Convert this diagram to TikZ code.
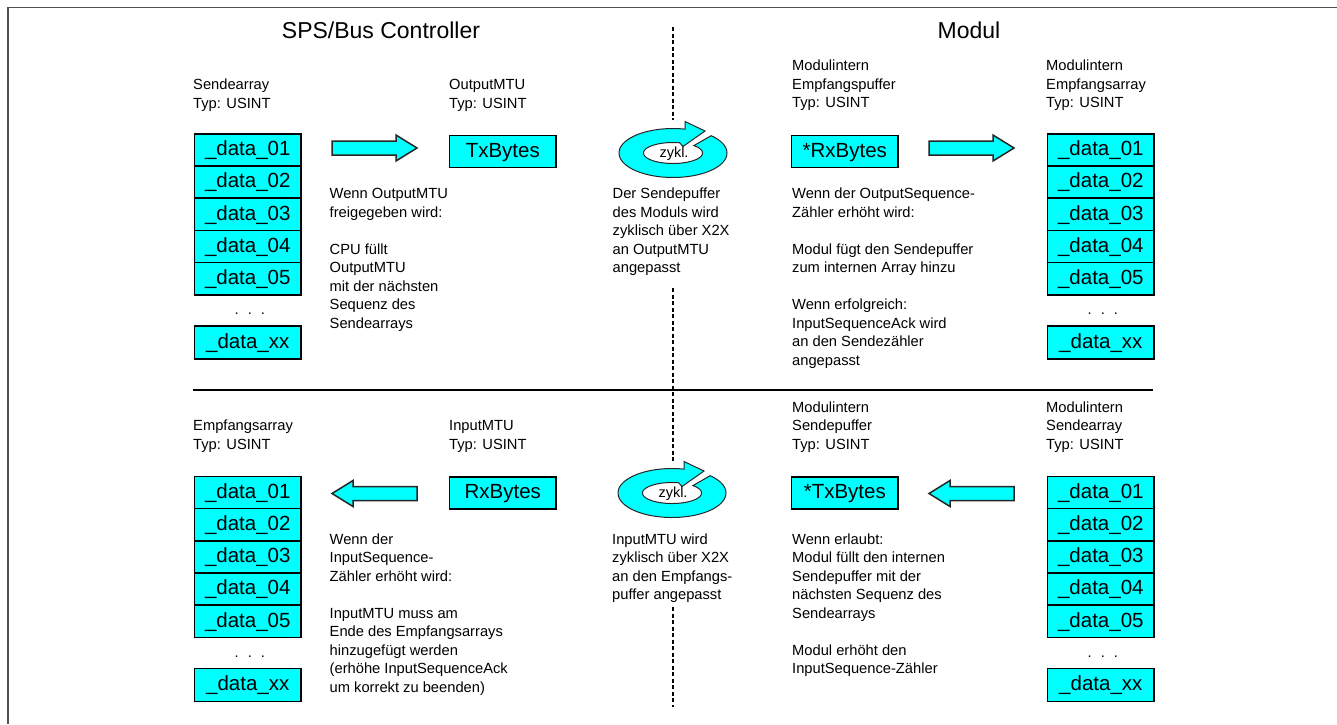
\documentclass[tikz,border=0pt]{standalone}
\usepackage{fontspec}
\setmainfont{Liberation Sans}
\definecolor{cyanfill}{RGB}{0,255,255}
\definecolor{framegray}{RGB}{80,80,80}
\tikzset{
  cell/.style={draw=black, line width=1.6pt, fill=cyanfill, minimum width=106.4pt,
    minimum height=32.2pt, inner sep=0pt, anchor=north west,
    font=\fontsize{20.5}{24}\selectfont, text height=14.7pt, text depth=3pt},
  desc/.style={anchor=north west, inner sep=0pt, align=left,
    font=\fontsize{14.7}{18.5}\selectfont},
  dots/.style={anchor=base, inner sep=0pt, font=\fontsize{14.7}{18.5}\selectfont},
  title/.style={anchor=base, inner sep=0pt, font=\fontsize{23}{27}\selectfont},
  blockarrow/.style={fill=cyanfill, draw=black!85, line width=1.5pt, line join=miter},
  divider/.style={line width=2pt, dash pattern=on 4pt off 2.5pt},
  zyklring/.pic={
    \begin{scope}[y=1pt]
      \filldraw[fill=cyanfill, draw=black!85, line width=1pt]
        plot[domain=77:405, samples=90] ({54*cos(\x)},{24.5*sin(\x)})
        -- plot[domain=405:77, samples=70] ({29.5*cos(\x)},{10.5*sin(\x)})
        -- (10,6.5) -- (32,22) -- (12,31.5) -- cycle;
      \node[inner sep=0pt, font=\fontsize{14.5}{17}\selectfont] (-lbl) at (1,-0.5) {zykl.};
    \end{scope}
  }
}
\newcommand{\datacol}[3]{%
  \foreach \i [count=\k from 0] in {01,02,03,04,05}{
    \node[cell] (#1\i) at (#2,{#3+\k*32.2}) {\_data\_\i};
  }
  \node[dots] (#1dots) at ({#2+56},{#3+181.5}) {.\hspace{9pt}.\hspace{9pt}.};
  \node[cell, minimum height=33pt] (#1xx) at (#2,{#3+192}) {\_data\_xx};
}
\begin{document}
\begin{tikzpicture}[x=1pt,y=-1pt]
\useasboundingbox (0,0) rectangle (1337,724);
% frame
\coordinate (fb) at (8,724);
\coordinate (fc) at (8,7.5);
\coordinate (fr) at (1337,7.5);
\draw[framegray, line width=1.5pt] (fb) -- (fc) -- (fr);

% titles
\node[title] (tsps) at (381,38.3) {SPS/Bus Controller};
\node[title] (tmod) at (969,38.3) {Modul};

% dashed divider
\coordinate (d1a) at (673,27);
\coordinate (d1b) at (673,120);
\coordinate (d2a) at (673,288);
\coordinate (d2b) at (673,463);
\coordinate (d3a) at (673,607);
\coordinate (d3b) at (673,707);
\draw[divider] (d1a) -- (d1b);
\draw[divider] (d2a) -- (d2b);
\draw[divider] (d3a) -- (d3b);

% horizontal separator
\coordinate (h1) at (193,390);
\coordinate (h2) at (1153,390);
\draw[line width=2pt] (h1) -- (h2);

% ================= top row =================
\node[desc] (lsa) at (193,76.5) {\strut Sendearray\\Typ: USINT};
\node[desc] (lomtu) at (449,76.5) {\strut OutputMTU\\Typ: USINT};
\node[desc] (lepuf) at (792,57.5) {\strut Modulintern\\Empfangspuffer\\Typ: USINT};
\node[desc] (learr) at (1046,57.5) {\strut Modulintern\\Empfangsarray\\Typ: USINT};

\datacol{sa}{193.8}{133}
\datacol{ma}{1046.8}{133}
\node[cell] (txb) at (448.8,134.5) {TxBytes};
\node[cell] (rxs) at (790.8,134.5) {*RxBytes};

\coordinate (ar1) at (332,148);
\draw[blockarrow] (ar1) ++(0,-7) -- ++(64,0) -- ++(0,-6) -- ++(21,13) -- ++(-21,13) -- ++(0,-6) -- ++(-64,0) -- cycle;
\coordinate (ar2) at (929,148);
\draw[blockarrow] (ar2) ++(0,-7) -- ++(64,0) -- ++(0,-6) -- ++(21,13) -- ++(-21,13) -- ++(0,-6) -- ++(-64,0) -- cycle;

\pic (zA) at (673,153) {zyklring};

\node[desc] (t1) at (329.5,185.5) {\strut Wenn OutputMTU\\freigegeben wird:\\[18.5pt]CPU füllt\\OutputMTU\\mit der nächsten\\Sequenz des\\Sendearrays};
\node[desc] (t2) at (612.5,185.5) {\strut Der Sendepuffer\\des Moduls wird\\zyklisch über X2X\\an OutputMTU\\angepasst};
\node[desc] (t3) at (792,185.5) {\strut Wenn der OutputSequence-\\Zähler erhöht wird:\\[18.5pt]Modul fügt den Sendepuffer\\zum internen Array hinzu\\[18.5pt]Wenn erfolgreich:\\InputSequenceAck wird\\an den Sendezähler\\angepasst};

% ================= bottom row =================
\node[desc] (lea) at (193,417.5) {\strut Empfangsarray\\Typ: USINT};
\node[desc] (limtu) at (449,417.5) {\strut InputMTU\\Typ: USINT};
\node[desc] (lspuf) at (792,399) {\strut Modulintern\\Sendepuffer\\Typ: USINT};
\node[desc] (lsarr) at (1046,399) {\strut Modulintern\\Sendearray\\Typ: USINT};

\datacol{ea}{193.8}{475.5}
\datacol{ms}{1046.8}{475.5}
\node[cell] (rxb) at (448.8,476) {RxBytes};
\node[cell] (txs) at (790.8,476) {*TxBytes};

\coordinate (ar3) at (332,493.5);
\draw[blockarrow] (ar3) -- ++(21,-13) -- ++(0,6) -- ++(64,0) -- ++(0,14) -- ++(-64,0) -- ++(0,6) -- cycle;
\coordinate (ar4) at (929,493.5);
\draw[blockarrow] (ar4) -- ++(21,-13) -- ++(0,6) -- ++(64,0) -- ++(0,14) -- ++(-64,0) -- ++(0,6) -- cycle;

\pic (zB) at (672,493) {zyklring};

\node[desc] (t4) at (329.5,531.3) {\strut Wenn der\\InputSequence-\\Zähler erhöht wird:\\[18.5pt]InputMTU muss am\\Ende des Empfangsarrays\\hinzugefügt werden\\(erhöhe InputSequenceAck\\um korrekt zu beenden)};
\node[desc] (t5) at (612,531.3) {\strut InputMTU wird\\zyklisch über X2X\\an den Empfangs-\\puffer angepasst};
\node[desc] (t6) at (792,531.3) {\strut Wenn erlaubt:\\Modul füllt den internen\\Sendepuffer mit der\\nächsten Sequenz des\\Sendearrays\\[18.5pt]Modul erhöht den\\InputSequence-Zähler};
\end{tikzpicture}
\end{document}
